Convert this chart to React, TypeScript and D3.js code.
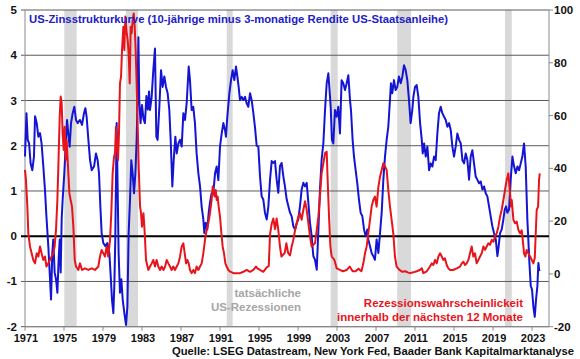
import React from "react";
import * as d3 from "d3";

// ---------- data ----------
const spreadYears = [
  1971.0, 1971.15, 1971.28, 1971.42, 1971.58, 1971.75, 1971.92, 1972.03, 1972.2, 1972.37, 1972.54, 1972.7, 1972.88,
  1973.05, 1973.2, 1973.39, 1973.5, 1973.67, 1973.8, 1973.9, 1974.04, 1974.18, 1974.32, 1974.45, 1974.56, 1974.66,
  1974.76, 1974.86, 1975.03, 1975.17, 1975.31, 1975.44, 1975.58, 1975.72, 1975.89, 1976.06, 1976.23, 1976.4, 1976.64,
  1976.85, 1977.05, 1977.19, 1977.32, 1977.5, 1977.67, 1977.84, 1978.08, 1978.28, 1978.45, 1978.59, 1978.73, 1978.86,
  1979.03, 1979.24, 1979.44, 1979.65, 1979.79, 1979.92, 1980.06, 1980.16, 1980.26, 1980.4, 1980.5, 1980.6, 1980.74,
  1980.88, 1981.02, 1981.19, 1981.36, 1981.5, 1981.63, 1981.77, 1981.9, 1982.04, 1982.18, 1982.32, 1982.45, 1982.56,
  1982.63, 1982.72, 1982.85, 1983.0, 1983.15, 1983.3, 1983.45, 1983.6, 1983.72, 1983.82, 1983.99, 1984.16, 1984.33,
  1984.47, 1984.6, 1984.78, 1984.95, 1985.12, 1985.29, 1985.46, 1985.63, 1985.8, 1985.94, 1986.11, 1986.25, 1986.42,
  1986.56, 1986.73, 1986.9, 1987.07, 1987.24, 1987.41, 1987.58, 1987.79, 1987.92, 1988.09, 1988.26, 1988.43, 1988.6,
  1988.78, 1988.95, 1989.12, 1989.29, 1989.39, 1989.53, 1989.7, 1989.84, 1989.97, 1990.14, 1990.31, 1990.49, 1990.66,
  1990.83, 1991.0, 1991.17, 1991.34, 1991.51, 1991.61, 1991.75, 1991.96, 1992.13, 1992.3, 1992.47, 1992.64, 1992.78,
  1992.91, 1993.05, 1993.22, 1993.39, 1993.56, 1993.73, 1993.9, 1994.08, 1994.25, 1994.42, 1994.59, 1994.76, 1994.93,
  1995.1, 1995.27, 1995.44, 1995.61, 1995.79, 1995.96, 1996.13, 1996.3, 1996.47, 1996.64, 1996.81, 1996.98, 1997.15,
  1997.32, 1997.49, 1997.66, 1997.84, 1998.01, 1998.18, 1998.35, 1998.52, 1998.7, 1998.87, 1999.03, 1999.2, 1999.37,
  1999.55, 1999.72, 1999.89, 2000.06, 2000.23, 2000.4, 2000.57, 2000.74, 2000.92, 2001.09, 2001.25, 2001.42, 2001.6,
  2001.77, 2001.94, 2002.11, 2002.21, 2002.35, 2002.48, 2002.62, 2002.79, 2002.96, 2003.13, 2003.3, 2003.47, 2003.64,
  2003.82, 2003.99, 2004.16, 2004.33, 2004.43, 2004.6, 2004.74, 2004.91, 2005.08, 2005.25, 2005.42, 2005.6, 2005.77,
  2005.94, 2006.11, 2006.21, 2006.38, 2006.55, 2006.72, 2006.89, 2007.06, 2007.24, 2007.41, 2007.58, 2007.75, 2007.92,
  2008.09, 2008.26, 2008.43, 2008.53, 2008.67, 2008.84, 2009.01, 2009.18, 2009.35, 2009.53, 2009.7, 2009.87, 2010.04,
  2010.21, 2010.38, 2010.55, 2010.72, 2010.83, 2011.0, 2011.17, 2011.34, 2011.52, 2011.69, 2011.79, 2011.93, 2012.1,
  2012.27, 2012.44, 2012.61, 2012.78, 2012.95, 2013.12, 2013.29, 2013.46, 2013.63, 2013.8, 2013.98, 2014.15, 2014.32,
  2014.49, 2014.66, 2014.83, 2015.0, 2015.17, 2015.34, 2015.52, 2015.69, 2015.86, 2016.03, 2016.2, 2016.37, 2016.54,
  2016.71, 2016.88, 2017.05, 2017.22, 2017.39, 2017.57, 2017.74, 2017.91, 2018.08, 2018.25, 2018.42, 2018.59, 2018.76,
  2018.93, 2019.1, 2019.28, 2019.45, 2019.58, 2019.72, 2019.89, 2020.06, 2020.2, 2020.34, 2020.47, 2020.64, 2020.81,
  2020.99, 2021.16, 2021.33, 2021.5, 2021.67, 2021.84, 2022.01, 2022.18, 2022.35, 2022.52, 2022.62, 2022.73, 2022.87,
  2023.0, 2023.14, 2023.28, 2023.41, 2023.55, 2023.65, 2023.75,
];
const spreadValues = [
  1.76, 2.72, 2.13, 2.05, 1.6, 1.46, 1.76, 2.65, 2.5, 2.2, 2.28, 2.05, 1.54,
  1.02, 0.43, -0.22, -0.67, -1.4, -0.37, -0.07, -0.8, -0.95, -1.25, -0.52, -0.07, -0.8,
  0.37, 0.8, 1.39, 1.98, 2.57, 2.27, 1.98, 2.5, 2.72, 2.86, 2.57, 2.5, 2.57,
  2.46, 2.72, 2.83, 2.64, 2.13, 1.68, 1.46, 1.54, 1.83, 1.68, 1.39, 0.65, 0.07,
  -0.15, -0.22, -0.15, -0.37, -0.88, -1.4, -1.7, -1.1, -0.07, 2.5, 1.1, -0.37, -1.25,
  -0.95, -1.4, -1.7, -1.96, -1.56, 0.07, 0.81, 1.68, 1.39, 0.95, 1.39, 2.13, 3.2,
  4.4, 3.0, 2.5, 2.9, 2.6, 2.5, 3.1, 2.8, 3.2, 2.79, 3.08, 3.67, 4.15,
  2.2, 2.13, 2.86, 3.67, 3.3, 3.53, 3.3, 3.16, 2.79, 2.13, 1.1, 1.68, 2.2,
  1.83, 2.05, 2.13, 1.98, 2.72, 2.57, 2.94, 3.75, 3.45, 2.79, 2.86, 2.5, 1.83,
  1.39, 1.1, 0.65, 0.37, 0.07, 0.3, 0.15, 0.52, 0.74, 0.95, 0.95, 1.39, 1.54,
  1.24, 1.98, 2.27, 2.5, 2.35, 2.2, 2.64, 3.16, 3.45, 3.67, 3.45, 3.75, 3.53,
  3.3, 3.01, 3.08, 3.01, 3.08, 2.94, 2.86, 3.16, 3.0, 2.72, 2.4, 2.0, 1.98,
  1.33, 0.88, 0.81, 0.52, 0.37, 0.66, 1.25, 1.66, 1.62, 1.66, 1.25, 0.96, 1.55,
  1.62, 1.33, 1.1, 0.81, 0.66, 0.52, 0.44, 0.22, 0.15, 0.29, 0.37, 0.66, 1.03,
  1.18, 1.1, 1.18, 0.74, 0.29, 0.0, -0.44, -0.52, -0.74, 0.15, 1.03, 1.69, 2.06,
  2.79, 3.38, 3.6, 3.3, 2.86, 2.13, 2.05, 2.79, 2.64, 2.86, 2.27, 3.45, 3.38,
  3.23, 3.38, 3.56, 3.01, 2.79, 2.13, 1.76, 1.46, 1.17, 0.81, 0.52, 0.44, 0.15,
  0.0, 0.15, -0.07, -0.22, -0.37, -0.44, -0.52, -0.07, -0.37, 0.07, 0.52, 1.25, 1.76,
  2.13, 2.42, 3.01, 3.38, 3.16, 3.45, 3.23, 3.3, 3.53, 3.38, 3.53, 3.78, 3.67,
  3.45, 3.01, 2.5, 2.79, 3.08, 3.3, 3.34, 3.08, 2.5, 2.13, 1.83, 2.05, 1.76,
  1.98, 1.46, 1.61, 1.54, 1.76, 1.68, 2.27, 2.72, 2.86, 2.72, 2.64, 2.57, 2.42,
  2.5, 2.35, 1.98, 1.76, 1.98, 2.27, 2.13, 2.05, 1.68, 1.61, 1.83, 1.68, 1.25,
  1.76, 1.9, 1.61, 1.32, 1.25, 1.17, 1.21, 1.03, 1.1, 0.95, 0.88, 0.66, 0.44,
  0.22, 0.07, -0.07, -0.44, -0.22, 0.07, 0.15, 0.37, 0.59, 0.66, 0.52, 0.59, 1.25,
  1.76, 1.54, 1.39, 1.54, 1.46, 1.61, 1.76, 2.05, 1.54, 0.37, -0.07, -0.59, -1.1,
  -1.18, -1.56, -1.78, -1.4, -1.1, -0.59, -0.77,
];

const probYears = [
  1971.0, 1971.1, 1971.24, 1971.34, 1971.51, 1971.68, 1971.85, 1972.03, 1972.2, 1972.37, 1972.54, 1972.7, 1972.88,
  1973.05, 1973.2, 1973.39, 1973.56, 1973.73, 1973.9, 1974.04, 1974.18, 1974.32, 1974.42, 1974.56, 1974.66, 1974.76,
  1974.86, 1974.97, 1975.07, 1975.17, 1975.27, 1975.41, 1975.55, 1975.68, 1975.82, 1975.96, 1976.1, 1976.23, 1976.47,
  1976.64, 1976.85, 1977.15, 1977.5, 1977.84, 1978.18, 1978.52, 1978.69, 1978.86, 1979.03, 1979.2, 1979.37, 1979.54,
  1979.72, 1979.85, 1979.99, 1980.13, 1980.23, 1980.33, 1980.44, 1980.54, 1980.64, 1980.74, 1980.85, 1980.95, 1981.09,
  1981.19, 1981.29, 1981.43, 1981.53, 1981.63, 1981.74, 1981.84, 1981.94, 1982.04, 1982.15, 1982.25, 1982.35, 1982.45,
  1982.56, 1982.66, 1982.8, 1982.9, 1983.0, 1983.15, 1983.28, 1983.41, 1983.65, 1983.82, 1984.0, 1984.16, 1984.33,
  1984.5, 1984.67, 1984.85, 1985.02, 1985.2, 1985.37, 1985.53, 1985.7, 1985.87, 1986.04, 1986.21, 1986.38, 1986.56,
  1986.73, 1986.9, 1987.07, 1987.24, 1987.38, 1987.52, 1987.65, 1987.79, 1987.92, 1988.09, 1988.26, 1988.43, 1988.6,
  1988.78, 1988.95, 1989.12, 1989.29, 1989.46, 1989.63, 1989.8, 1989.97, 1990.14, 1990.25, 1990.35, 1990.45, 1990.56,
  1990.66, 1990.76, 1990.86, 1991.0, 1991.14, 1991.27, 1991.41, 1991.55, 1991.68, 1991.85, 1992.0, 1992.37, 1992.7,
  1993.05, 1993.4, 1993.73, 1994.08, 1994.42, 1994.69, 1994.83, 1995.1, 1995.44, 1995.79, 1996.0, 1996.13, 1996.3,
  1996.47, 1996.64, 1996.81, 1996.98, 1997.15, 1997.3, 1997.64, 1997.8, 1997.98, 1998.18, 1998.35, 1998.52, 1998.7,
  1998.87, 1999.03, 1999.2, 1999.37, 1999.55, 1999.72, 1999.89, 2000.06, 2000.23, 2000.4, 2000.57, 2000.74, 2000.92,
  2001.09, 2001.25, 2001.42, 2001.6, 2001.77, 2001.94, 2002.04, 2002.18, 2002.32, 2002.45, 2002.73, 2002.97, 2003.3,
  2003.6, 2004.0, 2004.3, 2004.6, 2004.9, 2005.2, 2005.5, 2005.7, 2005.87, 2006.04, 2006.21, 2006.38, 2006.55,
  2006.72, 2006.89, 2007.06, 2007.24, 2007.41, 2007.58, 2007.75, 2007.92, 2008.09, 2008.26, 2008.43, 2008.6, 2008.77,
  2008.94, 2009.11, 2009.4, 2009.7, 2010.0, 2010.3, 2010.49, 2010.83, 2011.17, 2011.5, 2011.7, 2011.86, 2012.2,
  2012.54, 2012.71, 2012.88, 2013.05, 2013.22, 2013.4, 2013.57, 2013.74, 2013.9, 2014.07, 2014.25, 2014.42, 2014.6,
  2014.9, 2015.28, 2015.62, 2015.79, 2015.96, 2016.13, 2016.3, 2016.47, 2016.64, 2016.81, 2016.98, 2017.15, 2017.32,
  2017.5, 2017.67, 2017.84, 2018.01, 2018.18, 2018.35, 2018.52, 2018.69, 2018.87, 2019.04, 2019.2, 2019.38, 2019.55,
  2019.72, 2019.89, 2020.06, 2020.23, 2020.4, 2020.57, 2020.74, 2020.85, 2020.92, 2021.09, 2021.26, 2021.43, 2021.6,
  2021.77, 2021.94, 2022.05, 2022.18, 2022.32, 2022.45, 2022.62, 2022.8, 2022.97, 2023.14, 2023.28, 2023.38, 2023.48,
  2023.62, 2023.72, 2023.79,
];
const probValues = [
  39.4, 35.6, 25.5, 15.4, 10.4, 7.8, 5.3, 4.0, 7.8, 6.6, 10.4, 7.8, 5.3,
  6.6, 2.8, 4.0, 5.3, 6.6, 7.8, 10.4, 16.7, 28, 40.7, 59.6, 67.2, 64.6,
  53.3, 47, 55.8, 43.2, 50.7, 40.7, 30.6, 28, 25.5, 17.9, 5.3, 2.8, 1.5,
  4, 1.5, 2.1, 1.5, 2.1, 1.5, 2.8, 6.6, 9.1, 7.8, 6.6, 10.4, 6.6,
  12.9, 23, 38.1, 44.4, 45.7, 55.8, 47, 43.2, 53.3, 72.2, 74.7, 84.8, 93.7,
  84.8, 97.5, 91.2, 88.6, 83.6, 72.2, 93.7, 91.2, 96.2, 98.7, 93.7, 84.8, 72.2,
  55.8, 40.6, 25.5, 23, 17.9, 23, 15.4, 5.3, 1.5, 2.8, 4, 5.3, 2.8,
  5.3, 2.8, 1.5, 2.8, 1.5, 2.8, 5.3, 4, 2.8, 1.5, 2.8, 1.5, 2.8,
  4, 6.6, 10.4, 11.6, 7.8, 4, 5.3, 4, 1.5, 0.3, 1.5, 0.3, 2.8,
  1.5, 2.8, 4, 7.8, 12.9, 16.7, 19.2, 23, 28, 33.1, 30.6, 29.3, 31.8,
  28, 29.3, 25.5, 21.7, 15.4, 10.4, 7.8, 4, 2.8, 1.5, 1, 0.3, 0.3,
  0.3, 0.8, 1.5, 0.8, 1.5, 2.8, 2.1, 1.5, 0.8, 2.5, 3, 15, 19,
  21, 17, 21, 16.6, 10.3, 6.6, 8, 11.6, 8, 7, 10.4, 12.9, 16.6,
  19.2, 21.7, 23, 20.5, 24.3, 27.5, 24.3, 19.2, 14.2, 10.4, 11, 11.6, 16.6,
  21.7, 29.3, 38.1, 41.9, 45.7, 46.3, 35.6, 21.7, 10.4, 6.6, 5.3, 2.1, 1.5,
  1.0, 1.5, 2.8, 1.0, 1.0, 2.0, 1.0, 4, 7.8, 10.4, 15.4, 20.5, 25.5,
  28, 29.3, 25.5, 33, 36.8, 39.4, 41.9, 40.7, 39.4, 31.8, 25.5, 20.5, 15.4,
  6.6, 2.8, 1.5, 0.8, 1.0, 0.5, 0.3, 0.6, 1.0, 1.5, 2.1, 0.3, 1.0,
  2.8, 4, 3.4, 5.3, 4, 6.6, 7.8, 6.6, 5.3, 5.9, 3.4, 2.1, 1.5,
  1.5, 2.1, 2.8, 4, 4.6, 3.4, 4, 5.3, 7.8, 10.4, 6.6, 7.8, 4,
  5.3, 6.6, 7.8, 10.4, 9.1, 10.4, 11.6, 11, 12.9, 12.2, 14.2, 15.4, 17.9,
  21.7, 24.3, 28, 31.8, 35.6, 38.1, 30.6, 25.5, 28, 20.5, 19.2, 19.8, 16.7,
  15.4, 16.5, 12.9, 7.8, 6.6, 9.1, 7.8, 6.6, 5.3, 4, 6, 15.4, 24.3,
  25.5, 35.6, 38.1,
];

const recessionStart = [1975.03, 1981.36, 1991.69, 2002.35, 2009.18, 2020.23];
const recessionEnd = [1976.3, 1982.59, 1992.3, 2003.07, 2010.59, 2020.92];

const xTickYears = [1971, 1975, 1979, 1983, 1987, 1991, 1995, 1999, 2003, 2007, 2011, 2015, 2019, 2023];
const leftTicks = [-2, -1, 0, 1, 2, 3, 4, 5];
const rightTicks = [-20, 0, 20, 40, 60, 80, 100];

const titleText = "US-Zinsstrukturkurve (10-jährige minus 3-monatige Rendite US-Staatsanleihe)";
const recessionLabel = ["tatsächliche", "US-Rezessionen"];
const probLabel = ["Rezessionswahrscheinlickeit", "innerhalb der nächsten 12 Monate"];
const sourceText = "Quelle: LSEG Datastream, New York Fed, Baader Bank Kapitalmarktanalyse";

// ---------- layout ----------
const W = 580;
const H = 359;
const left = 25;
const right = 549;
const top = 10;
const bottom = 326.7;
const FONT = "'Liberation Sans', Arial, Helvetica, sans-serif";
const BLUE = "#1414d4";
const TITLE_BLUE = "#2020c4";
const RED = "#e8141c";

export default function App() {
  const x = d3.scaleLinear().domain([1971, 2024.74]).range([left, right]);
  const yL = d3.scaleLinear().domain([-2, 5]).range([bottom, top]);
  const yR = d3.scaleLinear().domain([-20, 100]).range([bottom, top]);

  const spread = spreadYears.map((t, i) => [t, spreadValues[i]] as [number, number]);
  const prob = probYears.map((t, i) => [t, probValues[i]] as [number, number]);

  const blueLine = d3
    .line<[number, number]>()
    .x((d) => x(d[0]))
    .y((d) => yL(d[1]))(spread) as string;
  const redLine = d3
    .line<[number, number]>()
    .x((d) => x(d[0]))
    .y((d) => yR(d[1]))(prob) as string;

  return (
    <svg
      width={W}
      height={H}
      style={{ position: "absolute", left: 0, top: 0, background: "#fff" }}
      fontFamily={FONT}
    >
      <rect x={0} y={0} width={W} height={H} fill="#fff" />
      {/* recession bands */}
      {recessionStart.map((s, i) => (
        <rect
          key={"r" + i}
          x={x(s)}
          y={top}
          width={x(recessionEnd[i]) - x(s)}
          height={bottom - top}
          fill="#d9d9d9"
        />
      ))}
      {/* gridlines */}
      {leftTicks.map((v) =>
        v === 0 ? null : (
          <line key={"g" + v} x1={left - 4} x2={right} y1={yL(v)} y2={yL(v)} stroke="#5a5a5a" strokeWidth={1} />
        )
      )}
      {/* axes lines */}
      <line x1={left} x2={left} y1={top} y2={bottom} stroke="#8a8a8a" strokeWidth={1} />
      <line x1={right} x2={right} y1={top} y2={bottom} stroke="#8a8a8a" strokeWidth={1} />
      <line x1={left} x2={right} y1={bottom} y2={bottom} stroke="#8a8a8a" strokeWidth={1} />
      {rightTicks.map((v) => (
        <line key={"rt" + v} x1={right} x2={right + 4} y1={yR(v)} y2={yR(v)} stroke="#8a8a8a" strokeWidth={1} />
      ))}
      {xTickYears.map((t) => (
        <line key={"xt" + t} x1={x(t)} x2={x(t)} y1={bottom} y2={bottom + 4} stroke="#8a8a8a" strokeWidth={1} />
      ))}
      {/* zero line */}
      <line x1={left - 4} x2={right} y1={yL(0)} y2={yL(0)} stroke="#000" strokeWidth={2} />

      {/* data lines */}
      <path d={blueLine} fill="none" stroke={BLUE} strokeWidth={2} strokeLinejoin="round" />
      <path d={redLine} fill="none" stroke={RED} strokeWidth={2} strokeLinejoin="round" />

      {/* left axis labels */}
      {leftTicks.map((v) => (
        <text key={"ll" + v} x={17} y={yL(v)} dy="0.35em" textAnchor="end" fontSize={11.5} fontWeight="bold" fill="#111">
          {v}
        </text>
      ))}
      {/* right axis labels */}
      {rightTicks.map((v) => (
        <text key={"rl" + v} x={554} y={yR(v)} dy="0.35em" textAnchor="start" fontSize={11.5} fontWeight="bold" fill="#111">
          {v}
        </text>
      ))}
      {/* x axis labels */}
      {xTickYears.map((t) => (
        <text key={"xl" + t} x={x(t) + 1} y={342} textAnchor="middle" fontSize={11} fontWeight="bold" fill="#111">
          {t}
        </text>
      ))}

      {/* title */}
      <text x={29} y={23} fontSize={11.5} fontWeight="bold" fill={TITLE_BLUE} textLength={419} lengthAdjust="spacingAndGlyphs">
        {titleText}
      </text>

      {/* recession label */}
      <text x={301} y={297} textAnchor="end" fontSize={11.5} fontWeight="bold" fill="#a6a6a6">
        {recessionLabel[0]}
      </text>
      <text x={301} y={311} textAnchor="end" fontSize={11.5} fontWeight="bold" fill="#a6a6a6">
        {recessionLabel[1]}
      </text>

      {/* probability label */}
      <text x={523} y={307} textAnchor="end" fontSize={11.5} fontWeight="bold" fill={RED}>
        {probLabel[0]}
      </text>
      <text x={523} y={321} textAnchor="end" fontSize={11.5} fontWeight="bold" fill={RED}>
        {probLabel[1]}
      </text>

      {/* source */}
      <text x={172} y={354.5} fontSize={10.8} fontWeight="bold" fill="#111" textLength={402} lengthAdjust="spacingAndGlyphs">
        {sourceText}
      </text>
    </svg>
  );
}
